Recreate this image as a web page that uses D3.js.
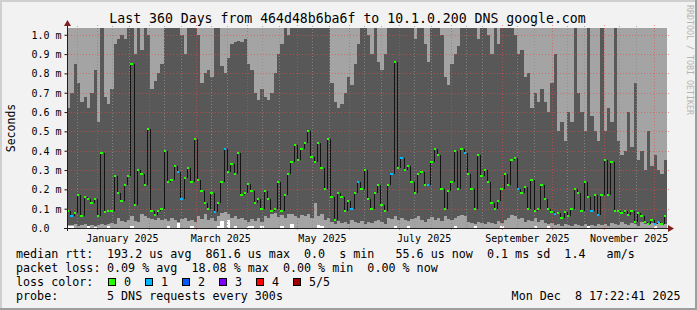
<!DOCTYPE html>
<html>
<head>
<meta charset="utf-8">
<script src="https://cdn.jsdelivr.net/npm/d3@7"></script>
<style>
  body { margin: 0; background: #f2f2f2; }
  text { font-family: "DejaVu Sans Mono", monospace; }
</style>
</head>
<body>
<div id="chart"></div>
<script>
// 180 bins of 2 days, 360 days ending Mon Dec 8 17:22:41 2025, values in ms

// median rtt per bin
const medianRtt = [
  0.09,0.06,0.08,0.17,0.06,0.16,0.15,0.13,0.15,0.06,
  0.39,0.085,0.09,0.09,0.27,0.18,0.14,0.22,0.27,0.85,
  0.12,0.30,0.28,0.22,0.51,0.09,0.065,0.09,0.10,0.40,
  0.24,0.25,0.32,0.29,0.15,0.26,0.31,0.24,0.46,0.25,
  0.19,0.13,0.10,0.18,0.085,0.13,0.24,0.41,0.29,0.33,
  0.28,0.39,0.17,0.18,0.23,0.19,0.13,0.15,0.10,0.19,
  0.15,0.09,0.10,0.24,0.09,0.17,0.28,0.34,0.43,0.35,
  0.41,0.44,0.50,0.37,0.34,0.44,0.31,0.20,0.46,0.16,
  0.04,0.18,0.16,0.09,0.14,0.10,0.18,0.24,0.20,0.30,
  0.15,0.10,0.18,0.22,0.12,0.09,0.22,0.28,0.86,0.31,
  0.36,0.30,0.32,0.24,0.18,0.28,0.29,0.22,0.22,0.34,
  0.41,0.38,0.20,0.10,0.19,0.24,0.40,0.20,0.41,0.39,
  0.28,0.20,0.10,0.38,0.27,0.30,0.24,0.13,0.10,0.14,
  0.20,0.28,0.22,0.35,0.36,0.20,0.18,0.21,0.10,0.25,
  0.09,0.10,0.22,0.15,0.10,0.085,0.07,0.08,0.05,0.085,
  0.06,0.10,0.20,0.18,0.09,0.24,0.16,0.09,0.17,0.065,
  0.17,0.35,0.17,0.34,0.09,0.09,0.08,0.09,0.065,0.09,
  0.03,0.08,0.06,0.03,0.02,0.04,0.02,0.03,0.02,0.06
];

// bins where 1 of 5 requests was lost (all others 0)
const lossOneBins = [1,33,34,44,47,85,87,97,100,108,119,135,146,157,159,176,177];

// smoke: lowest ping (below it the canvas shows white)
const smokeMin = [
  0.012,0.012,0,0,0,0,0.008,0,0.006,0,
  0,0,0.01,0,0,0,0,0,0,0.01,
  0,0,0,0,0,0,0,0,0,0,
  0.01,0,0,0.025,0,0,0,0.008,0,0,
  0,0,0,0,0,0.012,0.035,0,0.04,0,
  0.01,0,0,0,0.01,0.008,0,0,0.01,0,
  0,0,0,0,0.008,0,0,0.02,0,0,
  0,0,0,0,0,0.015,0.012,0,0,0,
  0,0,0,0,0,0,0,0,0,0,
  0,0,0,0,0,0,0,0,0.01,0,
  0,0,0.008,0,0,0,0,0,0,0,
  0,0,0,0,0,0,0.008,0,0,0,
  0,0,0.01,0,0,0,0,0,0,0,
  0.01,0,0,0,0,0,0,0,0,0,
  0.008,0,0,0,0.008,0,0,0,0,0,
  0,0,0,0,0,0,0.01,0,0,0,
  0,0,0,0,0,0,0,0,0,0,
  0,0,0,0,0,0,0.008,0,0,0
];

// smoke: 2nd ping (top of the lower light band)
const smokeLow = [
  0.018,0.015,0.02,0.01,0.015,0.02,0.012,0.018,0.01,0.015,
  0.02,0.015,0.02,0.025,0.02,0.05,0.035,0.03,0.04,0.06,
  0.035,0.03,0.07,0.06,0.05,0.045,0.04,0.05,0.04,0.045,
  0.035,0.05,0.04,0.03,0.045,0.05,0.035,0.04,0.03,0.06,
  0.045,0.07,0.04,0.05,0.035,0.06,0.08,0.085,0.07,0.05,
  0.06,0.045,0.05,0.04,0.03,0.045,0.035,0.05,0.03,0.06,
  0.05,0.07,0.08,0.055,0.065,0.05,0.07,0.075,0.06,0.05,
  0.065,0.06,0.07,0.05,0.13,0.06,0.07,0.04,0.05,0.03,
  0.02,0.035,0.025,0.03,0.02,0.04,0.03,0.025,0.035,0.02,
  0.03,0.025,0.035,0.04,0.03,0.02,0.05,0.045,0.06,0.04,
  0.05,0.04,0.035,0.045,0.05,0.06,0.04,0.03,0.045,0.055,
  0.04,0.05,0.035,0.06,0.045,0.04,0.05,0.06,0.065,0.06,
  0.03,0.025,0.02,0.03,0.025,0.02,0.03,0.025,0.02,0.035,
  0.025,0.04,0.05,0.065,0.06,0.045,0.05,0.03,0.04,0.035,
  0.05,0.03,0.04,0.025,0.02,0.025,0.015,0.02,0.01,0.02,
  0.015,0.01,0.02,0.015,0.01,0.02,0.012,0.015,0.01,0.02,
  0.015,0.02,0.01,0.025,0.02,0.015,0.03,0.02,0.015,0.025,
  0.02,0.01,0.03,0.02,0.015,0.025,0.02,0.03,0.015,0.02
];

// smoke: 4th ping (top of the dark band), above 1.035 runs off the chart
const smokeHigh = [
  0.62,0.70,0.85,0.75,0.65,0.68,0.62,0.70,0.82,0.55,
  1.1,0.68,0.64,0.72,0.95,0.98,1.0,0.98,1.1,1.1,
  0.9,1.1,0.92,1.1,1.0,0.72,0.76,0.8,0.85,1.1,
  1.1,1.1,1.1,1.1,1.0,0.9,1.1,1.1,1.1,1.0,
  0.75,0.8,0.82,0.78,1.1,1.1,0.84,0.8,0.88,0.95,
  0.96,0.97,0.96,0.98,0.85,0.82,0.7,0.66,0.72,0.68,
  0.66,0.7,0.8,0.9,0.95,1.1,1.0,1.1,1.1,1.1,
  1.1,1.1,1.1,1.1,1.1,1.1,1.1,1.1,1.1,0.75,
  0.65,0.62,0.64,0.7,0.78,0.74,0.85,0.95,1.1,1.1,
  1.0,0.9,1.1,0.86,0.82,0.9,1.1,1.1,1.1,1.1,
  1.1,1.1,1.1,1.1,0.98,1.1,1.1,0.95,0.86,1.1,
  1.1,1.1,1.0,0.78,0.74,0.85,0.9,0.94,1.1,1.1,
  1.1,1.1,1.1,0.98,1.1,1.1,1.0,0.9,1.1,0.95,
  1.1,1.1,1.1,1.1,1.0,0.9,0.92,0.78,0.8,0.62,
  0.7,0.65,0.72,0.65,0.6,0.75,0.9,0.5,0.55,0.45,
  0.6,0.55,1.1,0.7,0.6,0.5,1.1,0.58,0.5,0.45,
  1.1,0.5,0.62,0.55,1.1,0.45,0.38,0.4,0.6,0.42,
  0.75,0.35,0.4,0.3,0.5,0.32,0.38,0.3,0.28,0.35
];

const yTicks = [0, 0.1, 0.2, 0.3, 0.4, 0.5, 0.6, 0.7, 0.8, 0.9, 1.0];
const monthLabels = ["January 2025", "March 2025", "May 2025", "July 2025", "September 2025", "November 2025"];
const lossColors = ["#26ff00", "#00b8ff", "#0059ff", "#7e00ff", "#ff0000", "#a00000"];
const lossLabels = ["0", "1", "2", "3", "4", "5/5"];
const statsRtt = "193.2 us avg  861.6 us max  0.0  s min   55.6 us now  0.1 ms sd  1.4   am/s";
const statsLoss = "0.09 % avg  18.08 % max  0.00 % min  0.00 % now";
const probeText = "5 DNS requests every 300s";

const W = 697, H = 310;
const pL = 67, pR = 667, pT = 28, pB = 228;
const endTime = new Date(2025, 11, 8, 17, 22, 41);
const startTime = d3.timeDay.offset(endTime, -360);
const DAY = 864e5;

const svg = d3.select("#chart").append("svg")
    .attr("width", W).attr("height", H);

// background + 3d frame
svg.append("rect").attr("width", W).attr("height", H).attr("fill", "#f2f2f2");
svg.append("rect").attr("x", 0).attr("y", 0).attr("width", W).attr("height", 2).attr("fill", "#cfcfcf");
svg.append("rect").attr("x", 0).attr("y", 0).attr("width", 2).attr("height", H).attr("fill", "#cfcfcf");
svg.append("rect").attr("x", 0).attr("y", H - 2).attr("width", W).attr("height", 2).attr("fill", "#9e9e9e");
svg.append("rect").attr("x", W - 2).attr("y", 0).attr("width", 2).attr("height", H).attr("fill", "#9e9e9e");

const x = d3.scaleTime().domain([startTime, endTime]).range([pL, pR]);
const y = d3.scaleLinear().domain([0, 1.035]).range([pB, pT]);

const binStart = i => new Date(+startTime + i * 2 * DAY);
const bx0 = i => Math.round(x(binStart(i)));
const bx1 = i => Math.round(x(binStart(i + 1)));
const clampY = v => y(Math.min(v, 1.035));

// canvas
svg.append("rect").attr("x", pL).attr("y", pT)
    .attr("width", pR - pL).attr("height", pB - pT).attr("fill", "#ffffff");

const bins = d3.range(medianRtt.length);
const plot = svg.append("g").attr("shape-rendering", "crispEdges");

// outer smoke band (light), from lowest ping up past the top
plot.selectAll("rect.light").data(bins).join("rect")
    .attr("class", "light")
    .attr("x", i => bx0(i))
    .attr("width", i => bx1(i) - bx0(i))
    .attr("y", pT)
    .attr("height", i => Math.round(y(smokeMin[i])) - pT)
    .attr("fill", "#a4a4a4");

// inner smoke band (dark)
plot.selectAll("rect.dark").data(bins).join("rect")
    .attr("class", "dark")
    .attr("x", i => bx0(i))
    .attr("width", i => bx1(i) - bx0(i))
    .attr("y", i => Math.round(clampY(smokeHigh[i])))
    .attr("height", i => Math.round(y(smokeLow[i])) - Math.round(clampY(smokeHigh[i])))
    .attr("fill", "#585858");

// grid
const grid = svg.append("g");
const minorDays = [];
d3.timeMonth.range(d3.timeMonth.floor(startTime), endTime).forEach(m => {
  [10, 20].forEach(d => {
    const t = new Date(m.getFullYear(), m.getMonth(), d);
    if (t > startTime && t < endTime) minorDays.push(t);
  });
});
grid.selectAll("line.minor").data(minorDays).join("line")
    .attr("x1", d => Math.round(x(d)) + 0.5).attr("x2", d => Math.round(x(d)) + 0.5)
    .attr("y1", pT - 2).attr("y2", pB + 2)
    .attr("stroke", "rgba(143,143,143,0.75)").attr("stroke-dasharray", "1,2");

const months = d3.timeMonth.range(d3.timeMonth.ceil(startTime), endTime);
grid.selectAll("line.major").data(months).join("line")
    .attr("x1", d => Math.round(x(d)) + 0.5).attr("x2", d => Math.round(x(d)) + 0.5)
    .attr("y1", pT - 3).attr("y2", pB + 3)
    .attr("stroke", "rgba(222,79,79,0.6)").attr("stroke-dasharray", "1,2");

grid.selectAll("line.hgrid").data(yTicks.slice(1)).join("line")
    .attr("x1", pL - 2).attr("x2", pR + 2)
    .attr("y1", d => Math.round(y(d)) + 0.5).attr("y2", d => Math.round(y(d)) + 0.5)
    .attr("stroke", "rgba(222,79,79,0.6)").attr("stroke-dasharray", "1,2");

// median line: black steps + loss coloured caps
const med = svg.append("g").attr("shape-rendering", "crispEdges");
med.selectAll("line.step").data(bins.slice(1)).join("line")
    .attr("x1", i => bx0(i) + 0.5).attr("x2", i => bx0(i) + 0.5)
    .attr("y1", i => Math.round(y(medianRtt[i - 1])))
    .attr("y2", i => Math.round(y(medianRtt[i])))
    .attr("stroke", "#141414").attr("stroke-width", 1);

med.selectAll("rect.cap").data(bins).join("rect")
    .attr("x", i => bx0(i))
    .attr("width", i => Math.max(2, bx1(i) - bx0(i) - 1))
    .attr("y", i => Math.round(y(medianRtt[i])) - 1)
    .attr("height", 2)
    .attr("fill", i => lossColors[lossOneBins.includes(i) ? 1 : 0]);

// axes
const yAxis = svg.append("g")
    .attr("transform", `translate(${pL + 0.5},0)`)
    .call(d3.axisLeft(y).tickValues(yTicks).tickSize(3).tickPadding(3)
        .tickFormat(d => d === 0 ? "0.0\u00a0\u00a0" : d3.format(".1f")(d) + " m"));
yAxis.select(".domain").remove();
yAxis.selectAll(".tick line").attr("stroke", "#1f1f1f");
yAxis.selectAll(".tick text").attr("font-family", "DejaVu Sans Mono")
    .attr("font-size", "10px").attr("fill", "#000").attr("dy", "0.35em");

svg.append("line").attr("x1", pL - 3).attr("x2", pR + 3)
    .attr("y1", pB + 0.5).attr("y2", pB + 0.5).attr("stroke", "#1f1f1f");
svg.append("line").attr("x1", pL + 0.5).attr("x2", pL + 0.5)
    .attr("y1", pT - 3).attr("y2", pB + 3).attr("stroke", "#1f1f1f");
svg.append("path").attr("d", `M${pR + 1},${pB - 3}L${pR + 7},${pB + 0.5}L${pR + 1},${pB + 4}Z`)
    .attr("fill", "#801f1f");
svg.append("path").attr("d", `M${pL - 3},${pT - 2}L${pL + 0.5},${pT - 8}L${pL + 4},${pT - 2}Z`)
    .attr("fill", "#801f1f");

// x labels, centred on the month they name
const labelMonths = d3.timeMonth.every(2).range(d3.timeMonth.ceil(startTime), endTime);
svg.selectAll("text.xlab").data(labelMonths).join("text")
    .attr("class", "xlab")
    .attr("x", d => x(new Date(+d + 15 * DAY)))
    .attr("y", 241.5)
    .attr("text-anchor", "middle")
    .attr("font-size", "10px")
    .text((d, i) => monthLabels[i]);

// title + side labels
svg.append("text").attr("x", 347.5).attr("y", 22.5).attr("text-anchor", "middle")
    .attr("font-size", "13.2px").text("Last 360 Days from 464d48b6ba6f to 10.1.0.200 DNS google.com");
svg.append("text").attr("transform", "translate(14.5,128) rotate(-90)").attr("text-anchor", "middle")
    .attr("font-size", "11.5px").text("Seconds");
svg.append("text").attr("transform", "translate(686.5,5) rotate(90)")
    .attr("font-size", "8.3px").attr("fill", "#b4b4b4").text("RRDTOOL / TOBI OETIKER");

// legend
const fs = "11.7px";
const leg = svg.append("g").attr("font-size", fs).attr("fill", "#000");
leg.append("text").attr("x", 16).attr("y", 258).text("median rtt:");
leg.append("text").attr("x", 107).attr("y", 258).style("white-space", "pre").text(statsRtt);
leg.append("text").attr("x", 16).attr("y", 272).text("packet loss:");
leg.append("text").attr("x", 107).attr("y", 272).style("white-space", "pre").text(statsLoss);
leg.append("text").attr("x", 16).attr("y", 286).text("loss color:");
lossColors.forEach((c, i) => {
  const px = 108.5 + i * 37;
  leg.append("rect").attr("x", px).attr("y", 278.5).attr("width", 7).attr("height", 7)
      .attr("fill", c).attr("stroke", "#000").attr("stroke-width", 1);
  leg.append("text").attr("x", px + 15.5).attr("y", 286).text(lossLabels[i]);
});
leg.append("text").attr("x", 16).attr("y", 300).text("probe:");
leg.append("text").attr("x", 107).attr("y", 300).text(probeText);
leg.append("text").attr("x", 680.5).attr("y", 300).attr("text-anchor", "end")
    .style("white-space", "pre").text("Mon Dec  8 17:22:41 2025");
</script>
</body>
</html>
